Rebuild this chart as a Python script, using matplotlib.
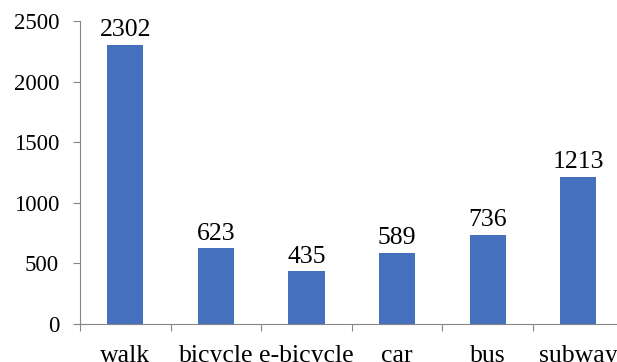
import matplotlib

matplotlib.use("Agg")
import matplotlib.pyplot as plt

modes = ["walk", "bicycle", "e-bicycle", "car", "bus", "subway"]
counts = [2302, 623, 435, 589, 736, 1213]
yticks = [0, 500, 1000, 1500, 2000, 2500]

plt.rcParams["font.family"] = ["Liberation Serif", "DejaVu Serif"]

W, H = 617, 362
fig = plt.figure(figsize=(W / 100, H / 100), dpi=100)
# axes runs past the right edge of the picture, as in the original
ax = fig.add_axes([80 / W, (H - 324) / H, 543.6 / W, 303 / H])

x = range(len(modes))
ax.bar(x, counts, width=0.4, color="#4570BE")
for i, v in zip(x, counts):
    ax.text(i, v + 30, str(v), ha="center", va="bottom", fontsize=18.5)

ax.set_xlim(-0.5, len(modes) - 0.5)
ax.set_ylim(0, 2500)
ax.set_yticks(yticks)
ax.set_xticks([i + 0.5 for i in range(-1, len(modes))], minor=False)
ax.set_xticklabels([])
ax.set_xticks(list(x), modes, minor=True)
ax.tick_params(axis="x", which="minor", length=0, labelsize=18.5, pad=15)
ax.tick_params(axis="x", which="major", length=5, color="#868686")
ax.tick_params(axis="y", length=5, color="#868686", labelsize=16.5, pad=10)

for side in ["top", "right"]:
    ax.spines[side].set_visible(False)
for side in ["left", "bottom"]:
    ax.spines[side].set_color("#868686")

fig.savefig("out.png", dpi=100)
